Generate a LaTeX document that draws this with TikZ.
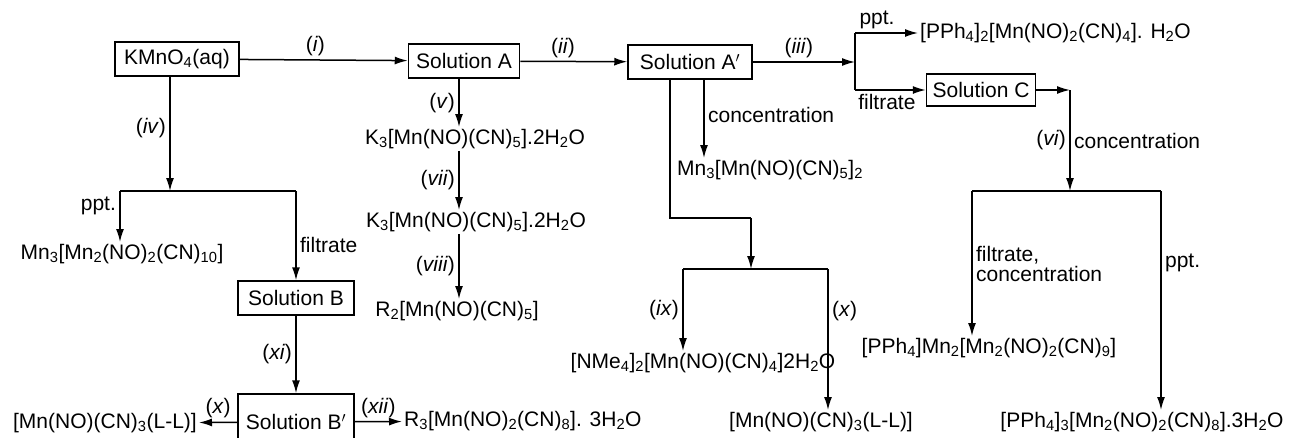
\documentclass[tikz,border=0pt]{standalone}
\usepackage{fontspec}
\setmainfont{Liberation Sans}
\usetikzlibrary{arrows.meta}
\newcommand{\sbs}[1]{\textsubscript{#1}}
\newcommand{\stp}[1]{(\textit{#1})}
\tikzset{
    solution/.style={draw, line width=1.5pt, minimum height=34pt, inner xsep=6pt},
    product/.style={inner sep=2pt},
    link/.style={line width=1.5pt},
    flow/.style={link, -{Latex[length=13pt, width=8pt]}},
    twoline/.style={align=left, font=\fontsize{21}{20}\selectfont},
}

\begin{document}
\begin{tikzpicture}[x=1pt, y=-1pt, font=\fontsize{21}{25}\selectfont]
    \useasboundingbox (0,0) rectangle (1289,437);

    % solutions
    \node[solution, minimum width=124pt] (kmno) at (177,59) {KMnO\sbs{4}(aq)};
    \node[solution, minimum width=111pt] (solA) at (464,61) {Solution A};
    \node[solution, minimum width=124pt] (solAp) at (690,62) {Solution A$'$};
    \node[solution, minimum width=106pt, minimum height=32pt] (solC) at (981,90) {Solution C};
    \node[solution, minimum width=116pt] (solB) at (296,298) {Solution B};
    \node[solution, minimum width=116pt, minimum height=56pt] (solBp) at (296,422) {Solution B$'$};

    % products
    \node[product, anchor=west] (pphA) at (918,33) {[PPh\sbs{4}]\sbs{2}[Mn(NO)\sbs{2}(CN)\sbs{4}]. H\sbs{2}O};
    \node[product] (mnA) at (770,170) {Mn\sbs{3}[Mn(NO)(CN)\sbs{5}]\sbs{2}};
    \node[product] (kA) at (475,139) {K\sbs{3}[Mn(NO)(CN)\sbs{5}].2H\sbs{2}O};
    \node[product] (kB) at (476,222) {K\sbs{3}[Mn(NO)(CN)\sbs{5}].2H\sbs{2}O};
    \node[product] (rA) at (457,311) {R\sbs{2}[Mn(NO)(CN)\sbs{5}]};
    \node[product] (mnB) at (122,254) {Mn\sbs{3}[Mn\sbs{2}(NO)\sbs{2}(CN)\sbs{10}]};
    \node[product, anchor=east] (llA) at (199,423) {[Mn(NO)(CN)\sbs{3}(L-L)]};
    \node[product, anchor=west] (rB) at (402,421) {R\sbs{3}[Mn(NO)\sbs{2}(CN)\sbs{8}]. 3H\sbs{2}O};
    \node[product] (nme) at (703,363) {[NMe\sbs{4}]\sbs{2}[Mn(NO)(CN)\sbs{4}]2H\sbs{2}O};
    \node[product] (llB) at (821,422) {[Mn(NO)(CN)\sbs{3}(L-L)]};
    \node[product] (pphB) at (989,348) {[PPh\sbs{4}]Mn\sbs{2}[Mn\sbs{2}(NO)\sbs{2}(CN)\sbs{9}]};
    \node[product] (pphC) at (1142,422) {[PPh\sbs{4}]\sbs{3}[Mn\sbs{2}(NO)\sbs{2}(CN)\sbs{8}].3H\sbs{2}O};

    % junctions
    \coordinate (jC) at (855,62);
    \coordinate (jCt) at (855,33);
    \coordinate (jCb) at (855,90);
    \coordinate (cC) at (1070,90);
    \coordinate (jD) at (1070,191);
    \coordinate (jDl) at (972,191);
    \coordinate (jDr) at (1161,191);
    \coordinate (jB) at (170,191);
    \coordinate (jBl) at (120,191);
    \coordinate (jBr) at (296,191);
    \coordinate (kAp) at (751,218);
    \coordinate (jE) at (751,269);
    \coordinate (jEl) at (683,269);
    \coordinate (jEr) at (828,269);

    % main line
    \draw[flow] (kmno) -- node[above, pos=0.45] {\stp{i}} (solA);
    \draw[flow] (solA) -- node[above, pos=0.4] {\stp{ii}} (solAp);
    \draw[flow] (solAp) -- node[above, pos=0.45] {\stp{iii}} (jC);
    \draw[link] (jCt) -- (jCb);
    \draw[flow] (jCt) -- node[above, pos=0.35] {ppt.} (pphA);
    \draw[flow] (jCb) -- node[below, pos=0.45] {filtrate} (solC);

    % solution C
    \draw[flow] (solC) -- (cC);
    \draw[flow] (cC) -- node[left] {\stp{vi}} node[right] {concentration} (jD);
    \draw[link] (jDl) -- (jDr);
    \draw[flow] (jDl) -- node[right, twoline] {filtrate,\\concentration} (jDl |- pphB.north);
    \draw[flow] (jDr) -- node[right, pos=0.33] {ppt.} (jDr |- pphC.north);

    % solution A'
    \draw[flow] ([xshift=14pt]solAp.south) -- node[right, pos=0.45] {concentration} ([xshift=14pt]solAp.south |- mnA.north);
    \draw[link] ([xshift=-20pt]solAp.south) |- (kAp);
    \draw[flow] (kAp) -- (jE);
    \draw[link] (jEl) -- (jEr);
    \draw[flow] (jEl) -- node[left] {\stp{ix}} (jEl |- nme.north);
    \draw[flow] (jEr) -- node[right, pos=0.3] {\stp{x}} (jEr |- llB.north);

    % solution A
    \draw[flow] ([xshift=-5pt]solA.south) -- node[left] {\stp{v}} ([xshift=-5pt]solA.south |- kA.north);
    \draw[flow] ([xshift=-5pt]solA.south |- kA.south) -- node[left] {\stp{vii}} ([xshift=-5pt]solA.south |- kB.north);
    \draw[flow] ([xshift=-5pt]solA.south |- kB.south) -- node[left] {\stp{viii}} ([xshift=-5pt]solA.south |- rA.north);

    % KMnO4 branch
    \draw[flow] (kmno.south -| jB) -- node[left, pos=0.45] {\stp{iv}} (jB);
    \draw[link] (jBl) -- (jBr);
    \draw[flow] (jBl) -- node[left, pos=0.3] {ppt.} (jBl |- mnB.north);
    \draw[flow] (jBr) -- node[right, pos=0.6] {filtrate} (solB);
    \draw[flow] (solB) -- node[left] {\stp{xi}} (solBp);
    \draw[flow] (solBp) -- node[above] {\stp{x}} (llA);
    \draw[flow] (solBp) -- node[above] {\stp{xii}} (rB);
\end{tikzpicture}
\end{document}
